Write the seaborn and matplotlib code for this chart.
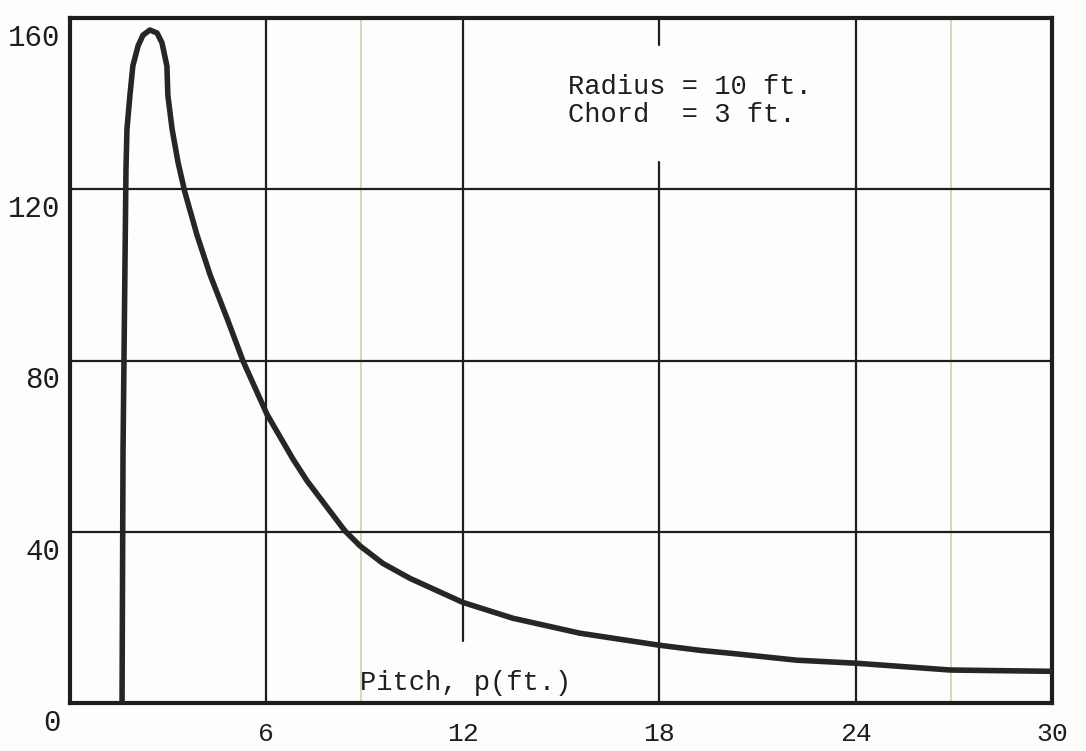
import numpy as np
import pandas as pd
import matplotlib
matplotlib.use("Agg")
import matplotlib.pyplot as plt
from matplotlib.transforms import ScaledTranslation
import seaborn as sns

# curve
pitch = [1.59, 1.62, 1.71, 1.74, 1.83, 1.92, 2.08, 2.23, 2.44, 2.66, 2.81,
         2.96, 2.99, 3.12, 3.30, 3.51, 3.88, 4.28, 4.80, 5.29, 6.02, 6.81,
         7.24, 8.40, 8.86, 9.56, 10.39, 12.0, 13.53, 15.58, 18.0, 19.25,
         20.2, 22.2, 24.0, 26.9, 30.0]
value = [0.0, 58.8, 124.7, 134.0, 141.9, 148.8, 153.5, 156.0, 157.2, 156.5,
         154.2, 148.8, 141.9, 134.0, 126.3, 119.3, 109.3, 100.0, 89.8, 79.8,
         67.4, 57.0, 51.9, 40.2, 36.7, 32.6, 29.1, 23.5, 19.8, 16.3, 13.5,
         12.3, 11.6, 10.0, 9.3, 7.7, 7.4]

x_ticks = [6, 12, 18, 24, 30]
x_labels = ["6", "12", "18", "24", "30"]
y_ticks = [0, 40, 80, 120, 160]
y_labels = ["0", "40", "80", "120", "160"]

note_lines = ["Radius = 10 ft.", "Chord  = 3 ft."]
x_title = "Pitch, p(ft.)"

sns.set_style("white")
plt.rcParams['font.family'] = ['Liberation Mono', 'DejaVu Sans Mono']

ink = "#1e1e1e"
paper = "#fdfdfb"

fig = plt.figure(figsize=(10.86, 7.51), dpi=100, facecolor=paper)
ax = fig.add_axes([70 / 1086, 48 / 751, 982 / 1086, 685 / 751])
ax.set_facecolor(paper)

df = pd.DataFrame({"pitch": pitch, "value": value})

# hand-drawn grid, with the gaps the original has
ax.axvline(6, color=ink, lw=1.6, zorder=1)
ax.axvline(12, ymin=0.09, ymax=1, color=ink, lw=1.6, zorder=1)
ax.axvline(18, ymin=0, ymax=0.79, color=ink, lw=1.6, zorder=1)
ax.axvline(18, ymin=0.96, ymax=1, color=ink, lw=1.6, zorder=1)
ax.axvline(24, color=ink, lw=1.6, zorder=1)
for yy in y_ticks[1:-1]:
    ax.axhline(yy, color=ink, lw=1.6, zorder=1)

# faint paper folds from the scan
ax.axvline(8.9, color="#d8cbb0", lw=1.2, zorder=0)
ax.axvline(26.9, color="#d8cbb0", lw=1.2, zorder=0)

sns.lineplot(data=df, x="pitch", y="value", sort=False, estimator=None,
             color="#262626", lw=4, ax=ax, zorder=3,
             solid_joinstyle="round", solid_capstyle="round")

ax.set_xlim(0, 30)
ax.set_ylim(0, 160)
ax.set_xlabel("")
ax.set_ylabel("")

for s in ax.spines.values():
    s.set_color(ink)
    s.set_linewidth(3)

ax.set_xticks(x_ticks)
ax.set_xticklabels(x_labels, fontsize=19, color=ink)
ax.set_yticks(y_ticks)
ax.set_yticklabels(y_labels, fontsize=21, color=ink)
ax.tick_params(axis="both", length=0)
ax.tick_params(axis="x", pad=14)
ax.tick_params(axis="y", pad=7)

shift = ScaledTranslation(0, -0.17, fig.dpi_scale_trans)
for lbl in ax.get_yticklabels():
    lbl.set_transform(lbl.get_transform() + shift)

ax.text(8.85, 4.6, x_title, fontsize=19.5, color=ink, ha="left", va="center")
ax.text(15.2, 144, note_lines[0], fontsize=19.5, color=ink, ha="left", va="center")
ax.text(15.2, 137.3, note_lines[1], fontsize=19.5, color=ink, ha="left", va="center")

fig.savefig("out.png", dpi=100, facecolor=paper)
